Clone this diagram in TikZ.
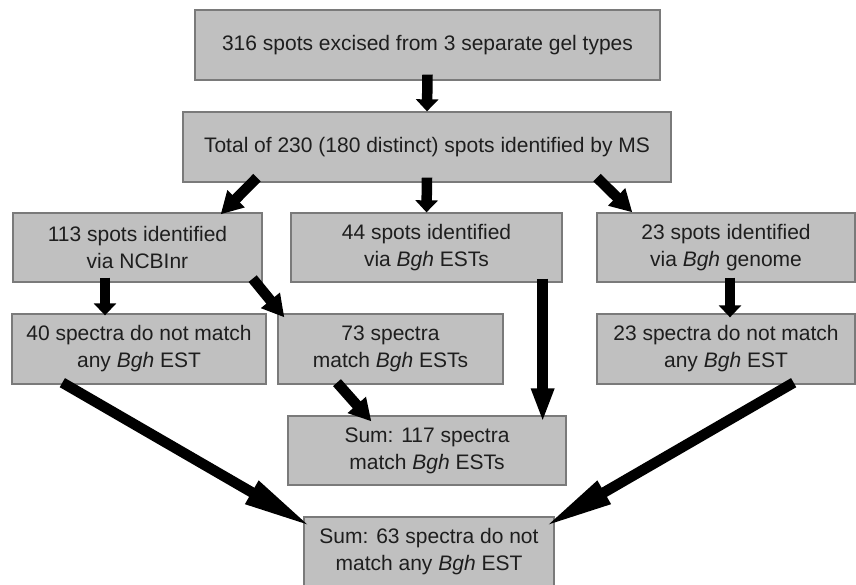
\documentclass[tikz,border=0pt]{standalone}
\usepackage{fontspec}
\setmainfont{Liberation Sans}
\usetikzlibrary{arrows.meta}
\definecolor{boxfill}{HTML}{C0C0C0}
\definecolor{boxline}{HTML}{7A7A7A}
\definecolor{txt}{HTML}{1E1E1E}
\tikzset{
  box/.style={draw=boxline, line width=1.3pt, fill=boxfill, inner sep=0pt,
    align=center, text=txt, font=\fontsize{21}{27}\selectfont},
  fat/.style={line width=10.5pt, line cap=butt, black},
  shorttip/.style={fat, -{Triangle[length=12pt,width=22pt]}},
  midtip/.style={fat, -{Triangle[length=22pt,width=23pt]}},
  longtip/.style={fat, -{Triangle[length=70pt,width=24pt]}},
  vtip/.style={fat, -{Triangle[length=34pt,width=21pt]}}
}
\begin{document}
\begin{tikzpicture}[x=1pt,y=-1pt]
\useasboundingbox (0,0) rectangle (856,585);
\node[box, minimum width=465pt, minimum height=70pt] (top) at (427.5,45) {316 spots excised from 3 separate gel types};
\node[box, minimum width=488pt, minimum height=70pt] (ms) at (427,147) {Total of 230 (180 distinct) spots identified by MS};
\node[box, minimum width=249pt, minimum height=69pt] (ncbi) at (137.5,247.5) {113 spots identified\\via NCBInr};
\node[box, minimum width=271pt, minimum height=69pt] (est) at (426.5,247.5) {44 spots identified\\via \textit{Bgh} ESTs};
\node[box, minimum width=258pt, minimum height=69pt] (gen) at (726,247.5) {23 spots identified\\via \textit{Bgh} genome};
\node[box, minimum width=254pt, minimum height=70pt] (nm40) at (139,349) {40 spectra do not match\\any \textit{Bgh} EST};
\node[box, minimum width=225pt, minimum height=70pt] (m73) at (390.5,349) {73 spectra\\match \textit{Bgh} ESTs};
\node[box, minimum width=258pt, minimum height=70pt] (nm23) at (726,349) {23 spectra do not match\\any \textit{Bgh} EST};
\node[box, minimum width=278pt, minimum height=69pt] (s117) at (427,450.5) {Sum: 117 spectra\\match \textit{Bgh} ESTs};
\node[box, minimum width=250pt, minimum height=69pt] (s63) at (429,551.5) {Sum: 63 spectra do not\\match any \textit{Bgh} EST};

\draw[shorttip] ([yshift=6pt]top.south) -- (ms.north);
\draw[midtip] ([xshift=-170pt,yshift=5pt]ms.south) -- ([xshift=-42pt,yshift=-2pt]ncbi.north east);
\draw[shorttip] ([yshift=5pt]ms.south) -- (est.north);
\draw[midtip] ([xshift=170pt,yshift=5pt]ms.south) -- ([xshift=36pt]gen.north west);
\draw[shorttip] ([xshift=-32.5pt,yshift=5pt]ncbi.south) -- ([xshift=-34pt,yshift=-2pt]nm40.north);
\draw[midtip] ([xshift=-10pt,yshift=4pt]ncbi.south east) -- ([xshift=7pt,yshift=-4pt]m73.north west);
\draw[shorttip] ([xshift=4pt,yshift=5pt]gen.south) -- ([xshift=4pt,yshift=-4pt]nm23.north);
\draw[vtip] ([xshift=-20pt,yshift=4pt]est.south east) -- ([xshift=-24pt,yshift=-7pt]s117.north east);
\draw[midtip] ([xshift=-53.5pt,yshift=2pt]m73.south) -- ([xshift=84pt,yshift=-6pt]s117.north west);
\draw[longtip] ([xshift=51pt,yshift=2pt]nm40.south west) -- ([xshift=9pt,yshift=-11pt]s63.north west);
\draw[longtip] ([xshift=-62pt,yshift=2pt]nm23.south east) -- ([xshift=-11pt,yshift=-11pt]s63.north east);
\end{tikzpicture}
\end{document}
